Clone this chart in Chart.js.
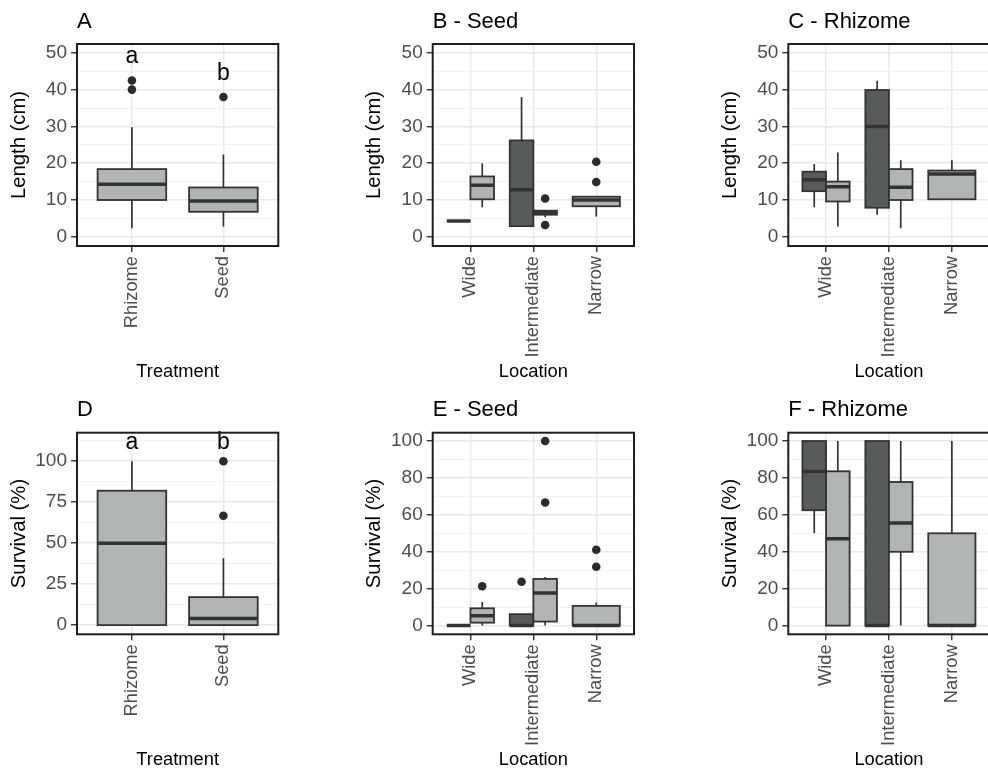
<!DOCTYPE html>
<html>
<head>
<meta charset="utf-8">
<script src="https://cdn.jsdelivr.net/npm/chart.js@4.4.1/dist/chart.umd.min.js"></script>
<style>
  html, body { margin: 0; padding: 0; background: #fff; }
  body { width: 988px; height: 768px; overflow: hidden; position: relative; }
  canvas { position: absolute; }
</style>
</head>
<body>
<canvas id="panelA" width="330" height="390" style="left:0;top:0"></canvas>
<canvas id="panelB" width="330" height="390" style="left:330px;top:0"></canvas>
<canvas id="panelC" width="330" height="390" style="left:660px;top:0"></canvas>
<canvas id="panelD" width="330" height="390" style="left:0;top:390px"></canvas>
<canvas id="panelE" width="330" height="390" style="left:330px;top:390px"></canvas>
<canvas id="panelF" width="330" height="390" style="left:660px;top:390px"></canvas>
<script>
// categories
const treatments = ["Rhizome", "Seed"];
const locations = ["Wide", "Intermediate", "Narrow"];

// box stats are [lower whisker, Q1, median, Q3, upper whisker]
// A - length by treatment
const lengthTreatment = [[2.3, 10, 14.3, 18.4, 29.8], [2.8, 6.8, 9.7, 13.4, 22.4]];
const lengthTreatmentOut = [[42.5, 40], [38]];
const lengthLetters = ["a", "b"];
const lengthLetterY = [49, 44.4];

// B - seed length by location (dark / light group, null = no box)
const seedLengthDark = [[4.3, 4.3, 4.3, 4.3, 4.3], [2.9, 2.9, 12.8, 26.2, 38], null];
const seedLengthLight = [[8, 10.2, 14, 16.4, 20], [5.3, 6, 6.6, 7.1, 7.1], [5.5, 8.3, 10, 10.9, 11]];
const seedLengthDarkOut = [[], [], []];
const seedLengthLightOut = [[], [10.4, 3.2], [20.4, 14.9]];

// C - rhizome length by location
const rhizLengthDark = [[8, 12.4, 15.5, 17.7, 19.8], [6, 7.9, 30, 39.9, 42.4], null];
const rhizLengthLight = [[2.8, 9.6, 13.6, 15, 22.9], [2.3, 10, 13.5, 18.4, 20.8], [10.2, 10.2, 17.1, 18, 20.8]];
const rhizLengthDarkOut = [[], [], []];
const rhizLengthLightOut = [[], [], []];

// D - survival by treatment
const survTreatment = [[0, 0, 50, 82, 100], [0, 0, 4, 17.1, 40.8]];
const survTreatmentOut = [[], [100, 66.7]];
const survLetters = ["a", "b"];
const survLetterY = [111.5, 111.5];

// E - seed survival by location
const seedSurvDark = [[0, 0, 0, 0, 0], [0, 0, 0, 6.2, 6.2], null];
const seedSurvLight = [[0, 1.6, 5.4, 9.4, 12.8], [0, 2.2, 17.7, 25.3, 26.4], [0, 0, 0, 10.7, 12.5]];
const seedSurvDarkOut = [[], [23.8], []];
const seedSurvLightOut = [[21.3], [100, 66.7], [41.1, 31.9]];

// F - rhizome survival by location
const rhizSurvDark = [[50, 62.5, 83.5, 100, 100], [0, 0, 0, 100, 100], null];
const rhizSurvLight = [[0, 0, 47, 83.6, 100], [0, 40, 55.6, 77.8, 100], [0, 0, 0, 50, 100]];
const rhizSurvDarkOut = [[], [], []];
const rhizSurvLightOut = [[], [], []];

const DARK = "#585b5c";
const LIGHT = "#b1b4b4";
const LINE = "#333333";
const FONT = "'Liberation Sans', Arial, Helvetica, sans-serif";

// dodge like ggplot: two boxes share 0.75, a lone box takes it all
function placeBoxes(dark, light, darkOut, lightOut) {
  const boxes = [];
  for (let i = 0; i < light.length; i++) {
    const pos = i + 1;
    const both = dark[i] && light[i];
    if (dark[i]) boxes.push({ x: both ? pos - 0.1875 : pos, w: both ? 0.375 : 0.75, s: dark[i], fill: DARK, out: darkOut[i] });
    if (light[i]) boxes.push({ x: both ? pos + 0.1875 : pos, w: both ? 0.375 : 0.75, s: light[i], fill: LIGHT, out: lightOut[i] });
  }
  return boxes;
}

function boxPlugin(boxes, letters, letterY) {
  return {
    id: "boxes",
    beforeDatasetsDraw(chart) {
      const { ctx, chartArea, scales: { x, y } } = chart;
      ctx.save();
      ctx.beginPath();
      ctx.rect(chartArea.left, chartArea.top, chartArea.right - chartArea.left, chartArea.bottom - chartArea.top);
      ctx.clip();
      boxes.forEach(function (b) {
        const cx = x.getPixelForValue(b.x);
        const x0 = x.getPixelForValue(b.x - b.w / 2);
        const x1 = x.getPixelForValue(b.x + b.w / 2);
        const [lo, q1, med, q3, hi] = b.s.map(v => y.getPixelForValue(v));
        ctx.strokeStyle = LINE;
        ctx.lineWidth = 1.7;
        ctx.beginPath();
        ctx.moveTo(cx, hi); ctx.lineTo(cx, q3);
        ctx.moveTo(cx, q1); ctx.lineTo(cx, lo);
        ctx.stroke();
        ctx.fillStyle = b.fill;
        ctx.fillRect(x0, q3, x1 - x0, q1 - q3);
        ctx.lineWidth = 1.8;
        ctx.strokeRect(x0, q3, x1 - x0, q1 - q3);
        ctx.lineWidth = 3.5;
        ctx.beginPath();
        ctx.moveTo(x0, med); ctx.lineTo(x1, med);
        ctx.stroke();
      });
      ctx.restore();
    },
    afterDatasetsDraw(chart) {
      const { ctx, chartArea, scales: { x, y } } = chart;
      ctx.save();
      if (letters) {
        ctx.font = "23px " + FONT;
        ctx.fillStyle = "#000";
        ctx.textAlign = "center";
        ctx.textBaseline = "middle";
        letters.forEach(function (t, i) {
          ctx.fillText(t, x.getPixelForValue(i + 1), y.getPixelForValue(letterY[i]));
        });
      }
      // panel border
      ctx.strokeStyle = "#1e1e1e";
      ctx.lineWidth = 2;
      ctx.strokeRect(chartArea.left, chartArea.top, chartArea.right - chartArea.left, chartArea.bottom - chartArea.top);
      ctx.restore();
    }
  };
}

const rows = {
  1: { titlePad: { top: 8.5, bottom: 9.1 }, xAxisH: 144, xTitlePad: 7.5 },
  2: { titlePad: { top: 6.5, bottom: 9.8 }, xAxisH: 145.7, xTitlePad: 9 }
};
const cols = {
  1: { left: 7, right: 51.7 },
  2: { left: 32.7, right: 26 },
  3: { left: 58.3, right: 0.4 }
};

function makePanel(id, p) {
  const boxes = placeBoxes(p.dark, p.light, p.darkOut, p.lightOut);
  const points = [];
  boxes.forEach(b => b.out.forEach(v => points.push({ x: b.x, y: v })));
  const row = rows[p.row], col = cols[p.col];
  const isMajor = v => Math.abs(v / p.yMajor - Math.round(v / p.yMajor)) < 1e-6;

  new Chart(document.getElementById(id), {
    type: "scatter",
    data: {
      datasets: [{
        data: points,
        pointRadius: 4.3,
        pointHoverRadius: 4.3,
        backgroundColor: "#2b2b2b",
        borderWidth: 0
      }]
    },
    options: {
      responsive: false,
      animation: false,
      layout: { padding: { left: col.left, right: col.right, top: 0, bottom: 0 } },
      plugins: {
        legend: { display: false },
        tooltip: { enabled: false },
        title: {
          display: true,
          text: p.title,
          align: "start",
          fullSize: false,
          color: "#000",
          font: { family: FONT, size: 22, weight: "normal" },
          padding: row.titlePad
        }
      },
      scales: {
        x: {
          type: "linear",
          min: 0.4,
          max: p.cats.length + 0.6,
          afterFit: s => { s.height = row.xAxisH; },
          border: { display: false },
          grid: { color: "#e9e9e9", lineWidth: 1.5, tickLength: 6, tickColor: LINE, tickWidth: 1.4 },
          ticks: {
            stepSize: 1,
            includeBounds: false,
            autoSkip: false,
            minRotation: 90,
            maxRotation: 90,
            padding: 4,
            color: "#4d4d4d",
            font: { family: FONT, size: 18.3 },
            callback: v => p.cats[v - 1] || ""
          },
          title: {
            display: true,
            text: p.xTitle,
            color: "#000",
            font: { family: FONT, size: 18.3 },
            padding: { top: 0, bottom: row.xTitlePad }
          }
        },
        y: {
          type: "linear",
          min: p.yMin,
          max: p.yMax,
          afterFit: s => { s.width = 70; },
          border: { display: false },
          grid: {
            color: c => isMajor(c.tick.value) ? "#e9e9e9" : "#f2f2f2",
            lineWidth: c => isMajor(c.tick.value) ? 1.5 : 1,
            tickLength: 6,
            tickColor: c => isMajor(c.tick.value) ? LINE : "rgba(0,0,0,0)",
            tickWidth: 1.4
          },
          ticks: {
            stepSize: p.yStep,
            includeBounds: false,
            autoSkip: false,
            padding: 4,
            color: "#4d4d4d",
            font: { family: FONT, size: 19 },
            callback: v => isMajor(v) ? String(v) : ""
          },
          title: {
            display: true,
            text: p.yTitle,
            color: "#000",
            font: { family: FONT, size: 20.3 },
            padding: { top: 0, bottom: 0 }
          }
        }
      }
    },
    plugins: [boxPlugin(boxes, p.letters, p.letterY)]
  });
}

makePanel("panelA", {
  title: "A", row: 1, col: 1, cats: treatments, xTitle: "Treatment", yTitle: "Length (cm)",
  dark: [null, null], light: lengthTreatment, darkOut: [[], []], lightOut: lengthTreatmentOut,
  yMin: -2.5, yMax: 52.4, yStep: 5, yMajor: 10, letters: lengthLetters, letterY: lengthLetterY
});
makePanel("panelB", {
  title: "B - Seed", row: 1, col: 2, cats: locations, xTitle: "Location", yTitle: "Length (cm)",
  dark: seedLengthDark, light: seedLengthLight, darkOut: seedLengthDarkOut, lightOut: seedLengthLightOut,
  yMin: -2.5, yMax: 52.4, yStep: 5, yMajor: 10
});
makePanel("panelC", {
  title: "C - Rhizome", row: 1, col: 3, cats: locations, xTitle: "Location", yTitle: "Length (cm)",
  dark: rhizLengthDark, light: rhizLengthLight, darkOut: rhizLengthDarkOut, lightOut: rhizLengthLightOut,
  yMin: -2.5, yMax: 52.4, yStep: 5, yMajor: 10
});
makePanel("panelD", {
  title: "D", row: 2, col: 1, cats: treatments, xTitle: "Treatment", yTitle: "Survival (%)",
  dark: [null, null], light: survTreatment, darkOut: [[], []], lightOut: survTreatmentOut,
  yMin: -5.6, yMax: 117.4, yStep: 12.5, yMajor: 25, letters: survLetters, letterY: survLetterY
});
makePanel("panelE", {
  title: "E - Seed", row: 2, col: 2, cats: locations, xTitle: "Location", yTitle: "Survival (%)",
  dark: seedSurvDark, light: seedSurvLight, darkOut: seedSurvDarkOut, lightOut: seedSurvLightOut,
  yMin: -4.7, yMax: 104.5, yStep: 10, yMajor: 20
});
makePanel("panelF", {
  title: "F - Rhizome", row: 2, col: 3, cats: locations, xTitle: "Location", yTitle: "Survival (%)",
  dark: rhizSurvDark, light: rhizSurvLight, darkOut: rhizSurvDarkOut, lightOut: rhizSurvLightOut,
  yMin: -4.7, yMax: 104.5, yStep: 10, yMajor: 20
});
</script>
</body>
</html>
